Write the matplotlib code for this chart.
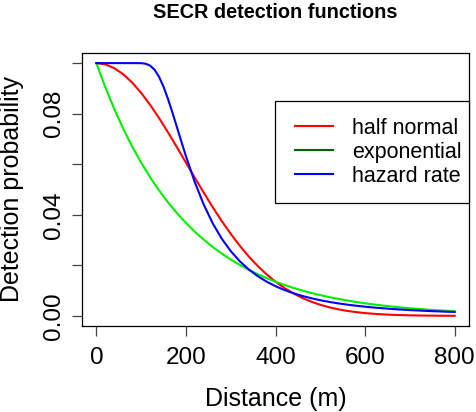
import matplotlib
matplotlib.use("Agg")
import matplotlib.pyplot as plt
from matplotlib.lines import Line2D
from matplotlib.patches import Rectangle

plt.rcParams['font.family'] = ['Liberation Sans', 'DejaVu Sans']

# distances (m)
dist = [0, 20, 40, 60, 80, 100, 120, 140, 160, 180, 200, 220, 240, 260, 280, 300,
        320, 340, 360, 380, 400, 420, 440, 460, 480, 500, 520, 540, 560, 580, 600,
        620, 640, 660, 680, 700, 720, 740, 760, 780, 800]

half_normal = [0.1000, 0.09950, 0.09802, 0.09560, 0.09231, 0.08825, 0.08353, 0.07827,
               0.07261, 0.06670, 0.06065, 0.05461, 0.04868, 0.04296, 0.03753, 0.03247,
               0.02780, 0.02357, 0.01979, 0.01645, 0.01353, 0.01103, 0.00889, 0.00710,
               0.00561, 0.00439, 0.00340, 0.00261, 0.00198, 0.00149, 0.00111, 0.00082,
               0.00060, 0.00043, 0.00031, 0.00022, 0.00015, 0.00011, 0.00007, 0.00005,
               0.00003]

exponential = [0.1000, 0.09048, 0.08187, 0.07408, 0.06703, 0.06065, 0.05488, 0.04966,
               0.04493, 0.04066, 0.03679, 0.03329, 0.03012, 0.02725, 0.02466, 0.02231,
               0.02019, 0.01827, 0.01653, 0.01496, 0.01353, 0.01225, 0.01108, 0.01003,
               0.00907, 0.00821, 0.00743, 0.00672, 0.00608, 0.00550, 0.00498, 0.00450,
               0.00408, 0.00369, 0.00334, 0.00302, 0.00273, 0.00247, 0.00224, 0.00202,
               0.00183]

dist_hr = [0, 20, 40, 60, 80, 100, 110, 120, 130, 140, 150, 160, 170, 180, 190, 200,
           220, 240, 260, 280, 300, 320, 340, 360, 380, 400, 420, 440, 460, 480, 500,
           520, 540, 560, 580, 600, 620, 640, 660, 680, 700, 720, 740, 760, 780, 800]

hazard_rate = [0.1000, 0.1000, 0.1000, 0.1000, 0.1000, 0.09997, 0.09976, 0.09902,
               0.09738, 0.09458, 0.09066, 0.08581, 0.08037, 0.07463, 0.06885, 0.06321,
               0.05282, 0.04394, 0.03656, 0.03054, 0.02564, 0.02166, 0.01842, 0.01576,
               0.01357, 0.01175, 0.01024, 0.00896, 0.00789, 0.00698, 0.00620, 0.00553,
               0.00495, 0.00445, 0.00402, 0.00364, 0.00330, 0.00301, 0.00274, 0.00251,
               0.00230, 0.00212, 0.00195, 0.00181, 0.00167, 0.00155]

legend_labels = ["half normal", "exponential", "hazard rate"]
x_ticks = [0, 200, 400, 600, 800]
y_ticks = [0.00, 0.02, 0.04, 0.06, 0.08, 0.10]
y_tick_labels = ["0.00", "", "0.04", "", "0.08", ""]

W, H = 476, 412
L, R, T, B = 82, 469, 53, 326
fig = plt.figure(figsize=(W/100, H/100), dpi=100)
ax = fig.add_axes([L/W, 1-B/H, (R-L)/W, (B-T)/H])

def ax_x(px):
    return (px - L) / (R - L)

def ax_y(py):
    return (B - py) / (B - T)

lw = 1.5
ax.plot(dist, half_normal, color="#ff0000", lw=lw)
ax.plot(dist, exponential, color="#00ee00", lw=lw)
ax.plot(dist_hr, hazard_rate, color="#0000ff", lw=lw)

ax.set_xlim(-32, 832)
ax.set_ylim(-0.004, 0.104)
ax.set_xticks(x_ticks)
ax.set_xticklabels([str(v) for v in x_ticks])
ax.set_yticks(y_ticks)
ax.set_yticklabels(y_tick_labels, rotation=90, va="center")

for s in ax.spines.values():
    s.set_linewidth(0.9)
    s.set_color("black")
ax.tick_params(axis="both", direction="out", length=7, width=0.9, color="#444444",
               labelsize=17.5)
ax.tick_params(axis="x", pad=8)
ax.tick_params(axis="y", pad=5)

ax.set_xlabel("Distance (m)", fontsize=18, labelpad=13)
ax.set_ylabel("Detection probability", fontsize=18, labelpad=14)
ax.set_title("SECR detection functions", fontsize=14.3, fontweight="bold", pad=25)

# legend frame
ax.add_patch(Rectangle((ax_x(275), ax_y(203)), ax_x(469) - ax_x(275), ax_y(101) - ax_y(203),
                       transform=ax.transAxes, facecolor="white", edgecolor="black",
                       lw=0.9, zorder=4, clip_on=False))

handles = [Line2D([], [], color="#ff0000", lw=lw),
           Line2D([], [], color="#006400", lw=lw),
           Line2D([], [], color="#0000ff", lw=lw)]
leg = ax.legend(handles, legend_labels, loc="upper left",
                bbox_to_anchor=(ax_x(295), ax_y(118)),
                fontsize=15.5, frameon=False, borderaxespad=0, borderpad=0,
                labelspacing=0.13, handlelength=1.75, handletextpad=0.9)
leg.set_zorder(5)

fig.savefig("out.png", dpi=100)
